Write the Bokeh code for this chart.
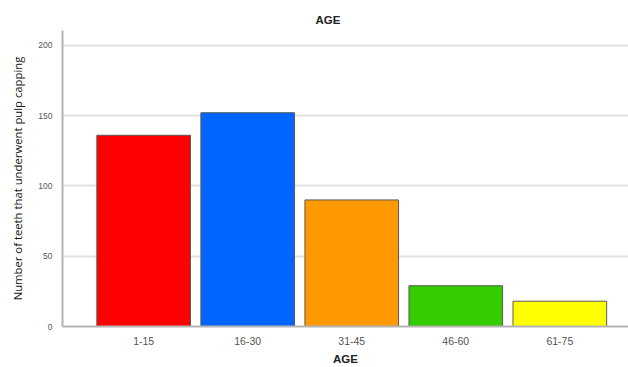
from bokeh.plotting import figure
from bokeh.models import FixedTicker, Range1d, ColumnDataSource, Title
from bokeh.embed import file_html
from bokeh.resources import INLINE

categories = ["1-15", "16-30", "31-45", "46-60", "61-75"]
counts = [136, 152, 90, 29, 18]
colors = ["#ff0000", "#0066ff", "#ff9900", "#33cc00", "#ffff00"]
y_ticks = [0, 50, 100, 150, 200]

xs = list(range(len(categories)))
src = ColumnDataSource(dict(x=xs, top=counts, color=colors))

p = figure(width=628, height=367, output_backend="svg", toolbar_location=None,
           x_range=Range1d(-0.78, 4.66), y_range=Range1d(0, 210.5),
           min_border_left=62, min_border_right=0, min_border_top=30, min_border_bottom=30)
p.background_fill_color = "white"
p.border_fill_color = "white"
p.outline_line_color = None

p.vbar(x="x", top="top", width=0.9, bottom=0, fill_color="color",
       line_color="#5a5a5a", line_width=1, source=src)

p.xaxis.ticker = FixedTicker(ticks=xs)
p.xaxis.major_label_overrides = {i: c for i, c in enumerate(categories)}
p.yaxis.ticker = FixedTicker(ticks=y_ticks)

for ax in (p.xaxis[0], p.yaxis[0]):
    ax.axis_line_color = "#b4b4b4"
    ax.axis_line_width = 2
    ax.major_tick_line_color = None
    ax.minor_tick_line_color = None
    ax.major_label_text_color = "#555555"
    ax.major_label_text_font = "Liberation Sans"

p.xaxis.major_label_text_font_size = "10.5px"
p.yaxis.major_label_text_font_size = "8.5px"
p.xaxis.major_label_standoff = 4
p.yaxis.major_label_standoff = 4

p.xaxis.axis_label = "AGE"
p.xaxis.axis_label_text_font = "Liberation Sans"
p.xaxis.axis_label_text_font_size = "11.5px"
p.xaxis.axis_label_text_font_style = "bold"
p.xaxis.axis_label_text_color = "#222222"
p.xaxis.axis_label_standoff = 5

p.yaxis.axis_label = "Number of teeth that underwent pulp capping"
p.yaxis.axis_label_text_font_style = "normal"
p.yaxis.axis_label_text_font = "Open Sans"
p.yaxis.axis_label_text_font_size = "11.3px"
p.yaxis.axis_label_text_color = "#111111"
p.yaxis.axis_label_standoff = 10

p.xgrid.grid_line_color = None
p.ygrid.grid_line_color = "#e2e2e2"
p.ygrid.grid_line_width = 2

p.title = Title(text="AGE", align="left", text_font="Liberation Sans",
                text_font_size="11.5px", text_font_style="bold", offset=253,
                text_color="#222222")

open("out.html", "w").write(file_html(p, INLINE))
